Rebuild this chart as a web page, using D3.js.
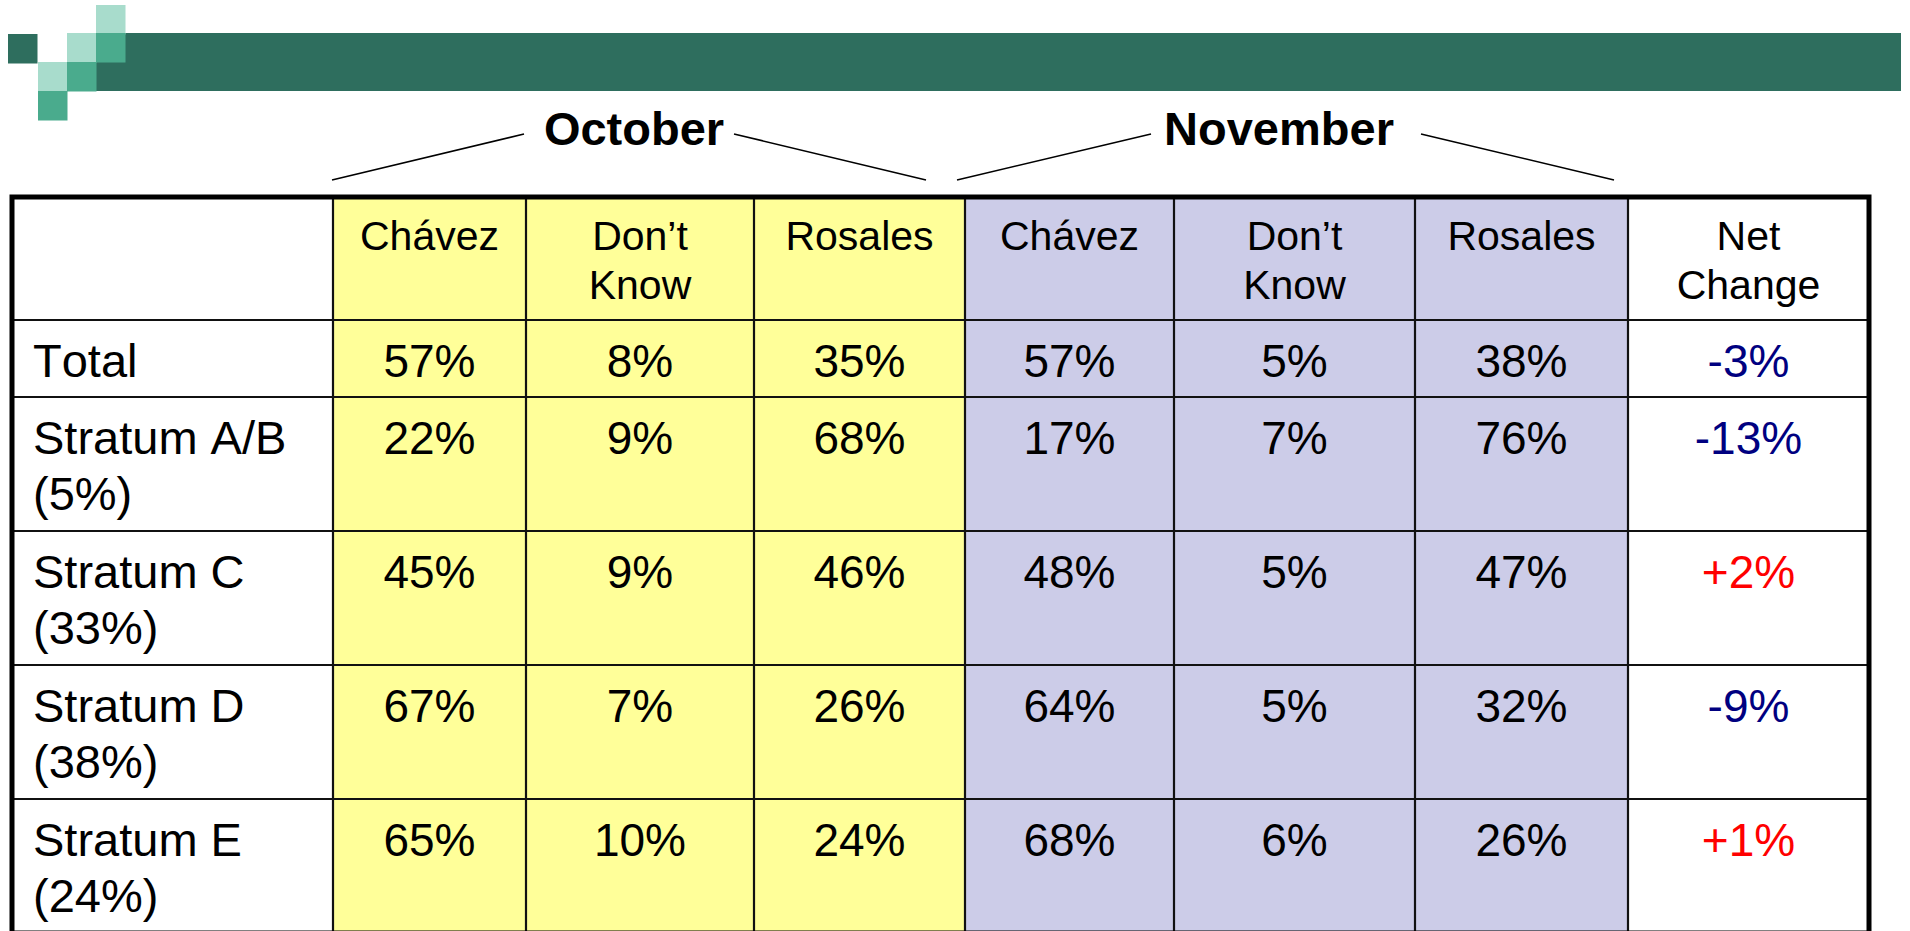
<!DOCTYPE html>
<html>
<head>
<meta charset="utf-8">
<script src="https://cdn.jsdelivr.net/npm/d3@7"></script>
<style>
  html, body { margin: 0; padding: 0; background: #ffffff; }
  svg { display: block; }
  text { font-family: "Liberation Sans", Arial, Helvetica, sans-serif; font-kerning: none; }
</style>
</head>
<body>
<svg id="chart" width="1910" height="931"></svg>
<script>
// ---------- DATA ----------
const periods = ["October", "November"];
const columnHeaders = [["Chávez"], ["Don’t", "Know"], ["Rosales"], ["Chávez"], ["Don’t", "Know"], ["Rosales"], ["Net", "Change"]];
const rowLabels = [["Total"], ["Stratum A/B", "(5%)"], ["Stratum C", "(33%)"], ["Stratum D", "(38%)"], ["Stratum E", "(24%)"]];
const octChavez  = [57, 22, 45, 67, 65];
const octDontKnow = [8, 9, 9, 7, 10];
const octRosales = [35, 68, 46, 26, 24];
const novChavez  = [57, 17, 48, 64, 68];
const novDontKnow = [5, 7, 5, 5, 6];
const novRosales = [38, 76, 47, 32, 26];
const netChange  = [-3, -13, 2, -9, 1];

// ---------- LAYOUT ----------
const svg = d3.select("#chart");
const W = 1910, H = 931;
const colKeys = ["label", "oc", "odk", "or", "nc", "ndk", "nr", "net"];
const colEdges = [12, 333, 526, 754, 965, 1174, 1415, 1628, 1869];
const rowKeys = ["header", 0, 1, 2, 3, 4];
const rowEdges = [197, 320, 397, 531, 665, 799, 933];

const xLeft = d3.scaleOrdinal().domain(colKeys).range(colEdges.slice(0, -1));
const xRight = d3.scaleOrdinal().domain(colKeys).range(colEdges.slice(1));
const yTop = d3.scaleOrdinal().domain(rowKeys).range(rowEdges.slice(0, -1));
const yBottom = d3.scaleOrdinal().domain(rowKeys).range(rowEdges.slice(1));

const fills = { label: "#ffffff", oc: "#ffff99", odk: "#ffff99", or: "#ffff99", nc: "#ccccE8", ndk: "#ccccE8", nr: "#ccccE8", net: "#ffffff" };

// ---------- Top decoration ----------
const dark = "#2e6e5e", mid = "#4aab8d", light = "#a8dccc";
const deco = svg.append("g");
deco.append("rect").attr("x", 96).attr("y", 33).attr("width", W - 9 - 96).attr("height", 58).attr("fill", dark);
const squares = [
  [8, 34, dark], [38, 62, light], [38, 91, mid], [67, 33, light], [67, 62, mid], [96, 5, light], [96, 33, mid]
];
deco.selectAll("rect.sq").data(squares).join("rect")
  .attr("class", "sq")
  .attr("x", d => d[0]).attr("y", d => d[1])
  .attr("width", 29.5).attr("height", 29.5)
  .attr("fill", d => d[2]);

// ---------- Cell backgrounds ----------
const cells = [];
rowKeys.forEach(r => colKeys.forEach(c => cells.push({ r, c })));
svg.append("g").selectAll("rect").data(cells).join("rect")
  .attr("x", d => xLeft(d.c)).attr("y", d => yTop(d.r))
  .attr("width", d => xRight(d.c) - xLeft(d.c))
  .attr("height", d => yBottom(d.r) - yTop(d.r))
  .attr("fill", d => fills[d.c]);

// ---------- Grid lines ----------
const grid = svg.append("g").attr("stroke", "#111").attr("stroke-width", 2.2);
colEdges.slice(1, -1).forEach(x => {
  grid.append("line").attr("x1", x).attr("x2", x).attr("y1", rowEdges[0]).attr("y2", rowEdges[rowEdges.length - 1]);
});
rowEdges.slice(1, -1).forEach(y => {
  grid.append("line").attr("x1", colEdges[0]).attr("x2", colEdges[colEdges.length - 1]).attr("y1", y).attr("y2", y);
});
svg.append("rect")
  .attr("x", colEdges[0]).attr("y", rowEdges[0])
  .attr("width", colEdges[colEdges.length - 1] - colEdges[0])
  .attr("height", rowEdges[rowEdges.length - 1] - rowEdges[0])
  .attr("fill", "none").attr("stroke", "#000").attr("stroke-width", 5);

// ---------- Header text ----------
const headerCols = colKeys.slice(1);
const hdr = svg.append("g");
headerCols.forEach((c, i) => {
  const cx = (xLeft(c) + xRight(c)) / 2;
  const t = hdr.append("text").attr("text-anchor", "middle").attr("font-size", 41).attr("fill", "#000");
  columnHeaders[i].forEach((line, j) => {
    t.append("tspan").attr("x", cx).attr("y", yTop("header") + 53 + j * 49).text(line);
  });
});

// ---------- Period titles with bracket lines ----------
const periodCenters = [634, 1279];
const periodText = svg.append("g");
periods.forEach((p, i) => {
  periodText.append("text").attr("x", periodCenters[i]).attr("y", 145)
    .attr("text-anchor", "middle").attr("font-size", 47).attr("font-weight", "bold").attr("fill", "#000").text(p);
});
const brackets = [
  [332, 180, 524, 134], [734, 134, 926, 180],
  [957, 180, 1151, 134], [1421, 134, 1614, 180]
];
svg.append("g").selectAll("line").data(brackets).join("line")
  .attr("x1", d => d[0]).attr("y1", d => d[1]).attr("x2", d => d[2]).attr("y2", d => d[3])
  .attr("stroke", "#000").attr("stroke-width", 1.6);

// ---------- Body ----------
const series = { oc: octChavez, odk: octDontKnow, or: octRosales, nc: novChavez, ndk: novDontKnow, nr: novRosales };
const body = svg.append("g");
rowLabels.forEach((lbl, r) => {
  const t = body.append("text").attr("font-size", 47).attr("fill", "#000");
  lbl.forEach((line, j) => {
    t.append("tspan").attr("x", 33).attr("y", yTop(r) + 57 + j * 56).text(line);
  });
  Object.keys(series).forEach(c => {
    body.append("text")
      .attr("x", (xLeft(c) + xRight(c)) / 2).attr("y", yTop(r) + 57)
      .attr("text-anchor", "middle").attr("font-size", 46).attr("fill", "#000")
      .text(series[c][r] + "%");
  });
  const v = netChange[r];
  body.append("text")
    .attr("x", (xLeft("net") + xRight("net")) / 2).attr("y", yTop(r) + 57)
    .attr("text-anchor", "middle").attr("font-size", 46)
    .attr("fill", v < 0 ? "#000080" : "#ff0000")
    .text((v > 0 ? "+" : "") + v + "%");
});
</script>
</body>
</html>
